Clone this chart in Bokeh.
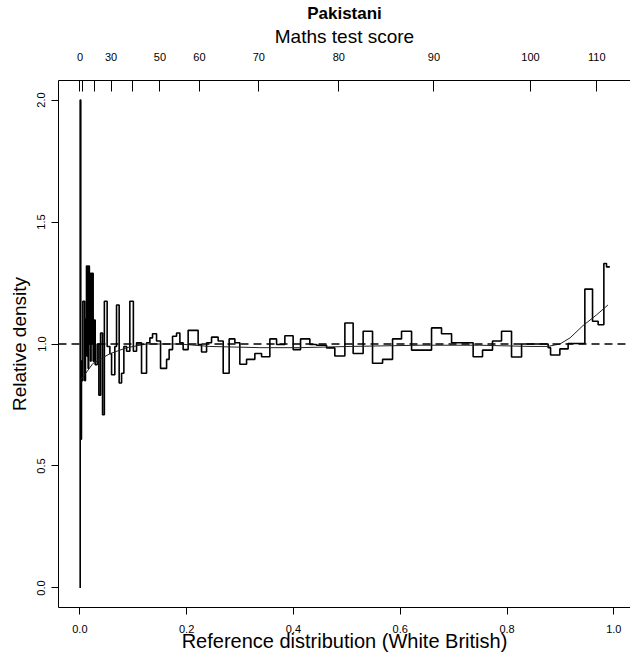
from bokeh.plotting import figure
from bokeh.models import Range1d, LinearAxis, FixedTicker, PrintfTickFormatter, Span
from bokeh.embed import file_html
from bokeh.resources import INLINE

# ---- data ----
bin_edges = [0.0006, 0.0017, 0.0030, 0.0043, 0.0056, 0.0090, 0.0105, 0.0124, 0.0135, 0.0144,
             0.0155, 0.0165, 0.0178, 0.0187, 0.0200, 0.0210, 0.0221, 0.0230, 0.0249, 0.0262,
             0.0287, 0.0324, 0.0356, 0.0388, 0.0425, 0.0459, 0.0511, 0.0562, 0.0594, 0.0655,
             0.0687, 0.0736, 0.0781, 0.0824, 0.0875, 0.0936, 0.1002, 0.1062, 0.1155, 0.1249,
             0.1311, 0.1361, 0.1436, 0.1511, 0.1624, 0.1672, 0.1736, 0.1811, 0.1873, 0.1934,
             0.2028, 0.2215, 0.2279, 0.2373, 0.2466, 0.2590, 0.2684, 0.2796, 0.2903, 0.2996,
             0.3122, 0.3277, 0.3403, 0.3558, 0.3684, 0.3839, 0.3994, 0.4133, 0.4307, 0.4433,
             0.4620, 0.4775, 0.4963, 0.5118, 0.5305, 0.5481, 0.5669, 0.5856, 0.6024, 0.6212,
             0.6586, 0.6773, 0.6961, 0.7365, 0.7541, 0.7728, 0.7897, 0.8084, 0.8272, 0.8770,
             0.8815, 0.8989, 0.9144, 0.9457, 0.9601, 0.9706, 0.9813, 0.9863, 0.9925]

rel_density = [2.0, 0.61, 0.93, 0.85, 1.175, 0.85, 1.10, 1.32, 0.95, 1.32,
               0.90, 1.32, 1.0, 1.29, 0.93, 1.29, 1.0, 1.29, 0.93, 1.098,
               0.915, 1.0, 0.79, 1.045, 0.71, 1.175, 0.99, 0.96, 0.874, 0.99,
               1.16, 0.84, 0.88, 0.99, 0.97, 1.175, 0.97, 1.005, 0.88, 1.005,
               1.025, 1.042, 1.012, 0.90, 0.937, 0.977, 1.032, 1.045, 1.005, 0.977,
               1.056, 0.998, 0.967, 1.005, 1.028, 1.012, 0.88, 1.021, 1.005, 0.917,
               0.937, 0.961, 0.948, 1.021, 0.998, 1.034, 0.977, 1.021, 0.998, 0.995,
               0.984, 0.951, 1.086, 0.961, 1.052, 0.921, 0.937, 1.021, 1.052, 0.975,
               1.066, 1.042, 1.005, 0.948, 0.975, 1.012, 1.052, 0.947, 1.0, 0.985,
               0.955, 0.98, 1.002, 1.225, 1.093, 1.079, 1.33, 1.316]

smooth_x = [0.0019, 0.0094, 0.0243, 0.056, 0.088, 0.125, 0.187, 0.243, 0.337, 0.412,
            0.506, 0.637, 0.749, 0.843, 0.876, 0.899, 0.918, 0.942, 0.968, 0.989]
smooth_y = [0.855, 0.875, 0.92, 0.96, 0.985, 1.0, 1.0, 0.99, 0.985, 0.985,
            0.99, 0.995, 0.995, 0.99, 0.99, 1.0, 1.025, 1.075, 1.12, 1.16]

top_tick_pos = [0.0002, 0.005, 0.0275, 0.0584, 0.098, 0.150, 0.224, 0.335, 0.485, 0.663, 0.844, 0.968]
top_tick_labels = ["0", "", "", "30", "", "50", "60", "70", "80", "90", "100", "110"]
bottom_ticks = [0.0, 0.2, 0.4, 0.6, 0.8, 1.0]
left_ticks = [0.0, 0.5, 1.0, 1.5, 2.0]
reference_level = 1.0
title_text = "Pakistani"

FONT = "Liberation Sans"

p = figure(width=630, height=655,
           x_range=Range1d(-0.04, 1.0312), y_range=Range1d(-0.08, 2.08),
           output_backend="svg", toolbar_location=None,
           min_border_left=58, min_border_right=0, min_border_top=77, min_border_bottom=48)

p.background_fill_color = "white"
p.border_fill_color = "white"
p.outline_line_color = None
p.xgrid.visible = False
p.ygrid.visible = False

# bottom axis
xa = p.xaxis[0]
xa.ticker = FixedTicker(ticks=bottom_ticks)
xa.formatter = PrintfTickFormatter(format="%.1f")
xa.major_tick_out = 7
xa.major_tick_in = 0
xa.minor_tick_line_color = None
xa.axis_line_color = "black"
xa.major_tick_line_color = "black"
xa.major_label_text_font = FONT
xa.major_label_text_font_size = "11px"
xa.major_label_text_color = "black"
xa.major_label_standoff = 10
xa.axis_label = "Reference distribution (White British)"
xa.axis_label_text_font = FONT
xa.axis_label_text_font_size = "20px"
xa.axis_label_text_font_style = "normal"
xa.axis_label_text_color = "black"
xa.axis_label_standoff = -6

# left axis
ya = p.yaxis[0]
ya.ticker = FixedTicker(ticks=left_ticks)
ya.formatter = PrintfTickFormatter(format="%.1f")
ya.major_tick_out = 7
ya.major_tick_in = 0
ya.minor_tick_line_color = None
ya.axis_line_color = "black"
ya.major_tick_line_color = "black"
ya.major_label_orientation = "vertical"
ya.major_label_text_font = FONT
ya.major_label_text_font_size = "11px"
ya.major_label_text_color = "black"
ya.major_label_standoff = 6
ya.axis_label = "Relative density"
ya.axis_label_text_font = FONT
ya.axis_label_text_font_size = "19px"
ya.axis_label_text_font_style = "normal"
ya.axis_label_text_color = "black"
ya.axis_label_standoff = 5

# top axis (maths test score)
ta = LinearAxis(ticker=FixedTicker(ticks=top_tick_pos),
                major_label_overrides={k: v for k, v in zip(top_tick_pos, top_tick_labels)})
ta.major_tick_in = 11
ta.major_tick_out = 0
ta.minor_tick_line_color = None
ta.axis_line_color = "black"
ta.major_tick_line_color = "black"
ta.major_label_text_font = FONT
ta.major_label_text_font_size = "11px"
ta.major_label_text_color = "black"
ta.major_label_standoff = 20
ta.axis_label = "Maths test score"
ta.axis_label_text_font = FONT
ta.axis_label_text_font_size = "19px"
ta.axis_label_text_font_style = "normal"
ta.axis_label_text_color = "black"
ta.axis_label_standoff = 3
p.add_layout(ta, "above")

# group title: an axis with no line, ticks or labels, only its bold name
tt = LinearAxis(ticker=FixedTicker(ticks=[]), axis_line_color=None,
                major_tick_line_color=None, minor_tick_line_color=None,
                major_tick_in=0, major_tick_out=0, major_label_standoff=0,
                major_label_text_font_size="0px")
tt.axis_label = title_text
tt.axis_label_text_font = FONT
tt.axis_label_text_font_size = "17px"
tt.axis_label_text_font_style = "bold"
tt.axis_label_text_color = "black"
tt.axis_label_standoff = 0
p.add_layout(tt, "above")

# reference line
p.add_layout(Span(location=reference_level, dimension="width", line_color="black",
                  line_width=1.5, line_dash="8 5"))

# step histogram of relative density
step_x = [bin_edges[0]]
step_y = [0.0]
for i, h in enumerate(rel_density):
    step_x += [bin_edges[i], bin_edges[i + 1]]
    step_y += [h, h]
p.line(step_x, step_y, line_color="black", line_width=1.6)

# smooth fitted relative density
p.line(smooth_x, smooth_y, line_color="#222222", line_width=1)

open("out.html", "w").write(file_html(p, INLINE))
